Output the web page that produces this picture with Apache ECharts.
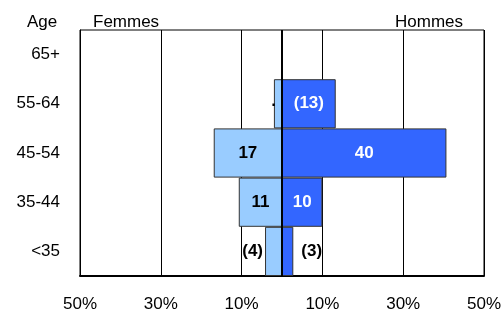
<!DOCTYPE html>
<html>
<head>
<meta charset="utf-8">
<script src="https://cdn.jsdelivr.net/npm/echarts@6/dist/echarts.min.js"></script>
<style>
  html, body { margin: 0; padding: 0; background: #fff; }
  #chart { width: 503px; height: 316px; }
</style>
</head>
<body>
<div id="chart"></div>
<script>
const ageGroups = ['65+', '55-64', '45-54', '35-44', '<35']
const femmesValues = [null, 2, 16.9, 10.7, 4.2]
const hommesValues = [null, 13.3, 40.7, 10, 2.8]
const femmesLabels = ['', '·', '17', '11', '(4)']
const hommesLabels = ['', '(13)', '40', '10', '(3)']
const tickValues = [-50, -30, -10, 10, 30, 50]

const FONT = '"Liberation Sans", Arial, sans-serif'
const FEMMES_COLOR = '#99ccff'
const HOMMES_COLOR = '#3366ff'

const chart = echarts.init(document.getElementById('chart'), null, { renderer: 'canvas' })

// femmes go to the left, so their values are negated; labels sit outside for thin bars
const femmesData = femmesValues.map((v, i) => {
    const item = { value: v == null ? null : -v }
    if (i === 1) item.label = { position: 'left', distance: -3, offset: [0, 2] }
    if (i === 4) item.label = { position: 'left', distance: 2 }
    return item
})

const hommesData = hommesValues.map((v, i) => {
    const item = { value: v }
    if (i === 4) item.label = { position: 'right', distance: 8, color: '#000' }
    return item
})

const titleStyle = { fontSize: 17, fontWeight: 'normal', color: '#000', fontFamily: FONT }

chart.setOption({
    animation: false,
    backgroundColor: '#fff',
    textStyle: { fontFamily: FONT },
    title: [
        { text: 'Age', left: 27, top: 14, padding: 0, textStyle: titleStyle },
        { text: 'Femmes', left: 93, top: 14, padding: 0, textStyle: titleStyle },
        { text: 'Hommes', left: 395, top: 14, padding: 0, textStyle: titleStyle }
    ],
    grid: {
        left: 80,
        right: 19,
        top: 30,
        bottom: 40,
        show: true,
        borderColor: '#000',
        borderWidth: 1,
        containLabel: false,
        outerBoundsMode: 'none'
    },
    xAxis: {
        type: 'value',
        min: -50,
        max: 50,
        axisLine: { show: true, onZero: false, lineStyle: { color: '#000', width: 2 } },
        axisTick: { show: false, customValues: tickValues },
        axisLabel: {
            customValues: tickValues,
            formatter: v => Math.abs(v) + '%',
            color: '#000',
            fontSize: 17,
            fontFamily: FONT,
            margin: 20
        },
        splitLine: { show: true, lineStyle: { color: '#000', width: 1 } }
    },
    yAxis: {
        type: 'category',
        data: ageGroups,
        inverse: true,
        axisLine: { show: true, onZero: false, lineStyle: { color: '#000', width: 1 } },
        axisTick: { show: false },
        axisLabel: { color: '#000', fontSize: 17, fontFamily: FONT, margin: 20 },
        splitLine: { show: false }
    },
    series: [
        {
            name: 'Femmes',
            type: 'bar',
            data: femmesData,
            barGap: '-100%',
            barCategoryGap: 0,
            itemStyle: { color: FEMMES_COLOR, borderColor: '#333', borderWidth: 1 },
            label: {
                show: true,
                position: 'inside',
                formatter: p => femmesLabels[p.dataIndex],
                color: '#000',
                fontWeight: 'bold',
                fontSize: 17,
                fontFamily: FONT
            }
        },
        {
            name: 'Hommes',
            type: 'bar',
            data: hommesData,
            barGap: '-100%',
            barCategoryGap: 0,
            itemStyle: { color: HOMMES_COLOR, borderColor: '#333', borderWidth: 1 },
            label: {
                show: true,
                position: 'inside',
                formatter: p => hommesLabels[p.dataIndex],
                color: '#fff',
                fontWeight: 'bold',
                fontSize: 17,
                fontFamily: FONT
            },
            markLine: {
                silent: true,
                symbol: 'none',
                label: { show: false },
                lineStyle: { color: '#000', width: 2, type: 'solid' },
                data: [{ xAxis: 0 }]
            }
        }
    ]
})
</script>
</body>
</html>
